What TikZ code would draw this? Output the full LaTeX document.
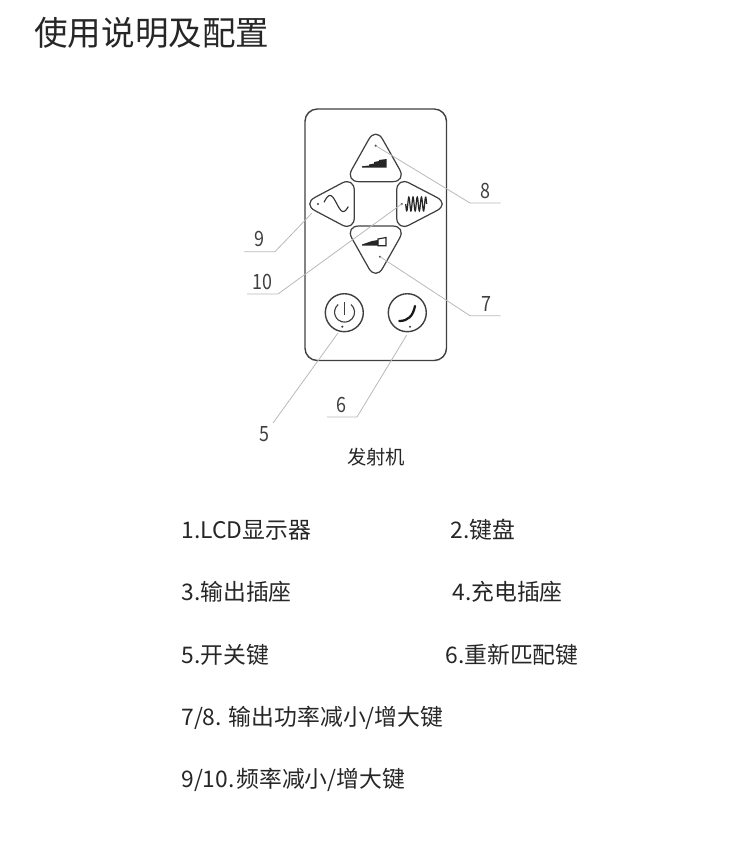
\documentclass[tikz,border=0pt]{standalone}
\usepackage{fontspec}
\setmainfont{Noto Sans CJK SC}
\newfontfamily\numfont[FakeStretch=0.85]{Noto Sans CJK SC}
\tikzset{
	device/.style={draw=black!75, line width=0.8pt},
	keyshape/.style={draw=black!75, line width=0.7pt, rounded corners=8pt},
	leader/.style={draw=black!28, line width=0.45pt},
	dotmark/.style={fill=black!75},
	number/.style={text=black!75, font=\numfont\fontsize{12}{13}\selectfont, inner sep=0pt},
	heading/.style={anchor=west, inner sep=0pt, text=black!85, font=\fontsize{19.1}{22}\selectfont},
	entry/.style={anchor=west, inner sep=0pt, text=black!85, font=\fontsize{13}{16}\selectfont},
}
\begin{document}
\begin{tikzpicture}[x=0.02cm, y=-0.02cm]
	\useasboundingbox (0,0) rectangle (750,846);
	\node[heading] (title) at (34,33) {使用说明及配置};

	% Gehaeuse
	\draw[device, rounded corners=7pt] (305,109) rectangle (446.5,360.5);

	% Tasten
	\draw[keyshape] (375.7,127) -- (406.5,181.7) -- (345,181.7) -- cycle;
	\draw[keyshape] (375.7,280.5) -- (406.5,226) -- (345,226) -- cycle;
	\draw[keyshape] (302.5,204) -- (354.3,176.5) -- (354.3,231.5) -- cycle;
	\draw[keyshape] (449.5,204) -- (396.7,176.5) -- (396.7,231.5) -- cycle;
	\draw[device] (344.3,312.7) circle (19);
	\draw[device] (407.3,312.7) circle (19);

	% Symbole
	\fill[black!85] (362,167.7) -- (362,166.3) -- (369,165.5) -- (369,164.5) -- (374,163.5) -- (374,162) -- (379,161) -- (379,160) -- (386.7,159) -- (386.7,167.7) -- cycle;
	\draw[black!85, line width=0.65pt] (378,245.7) -- (386,245.7) -- (386,237.5) -- (378,239) -- cycle;
	\fill[black!85] (362,245.7) -- (362,244.5) -- (372,241) -- (378,240) -- (378,245.7) -- cycle;
	\draw[black!80, line width=0.65pt] plot[domain=324:348.3, samples=50, smooth] (\x,{203.5-8*cos((\x-330)*360/26.6)});
	\draw[black!85, line width=0.7pt] plot[domain=0:21, samples=90, smooth] ({405.7+\x},{204+7*sin(\x*360/4.2)});
	\draw[black!75, line width=0.65pt] (344.3,302) -- (344.3,315);
	\draw[black!75, line width=0.65pt] (351,304.5) arc[start angle=-50, end angle=230, radius=10];
	\draw[black!90, line width=1.3pt, line cap=round] (399.3,321) .. controls (408,321) and (413,316) .. (415,306);

	% Punkte und Bezugslinien
	\coordinate (dot8) at (375.7,145.7);
	\coordinate (dot7) at (380,256.7);
	\coordinate (dot9) at (318,204);
	\coordinate (dot10) at (401.7,204);
	\coordinate (dot5) at (342.3,326.7);
	\coordinate (dot6) at (410,326.7);
	\foreach \d in {dot5,dot6,dot7,dot8,dot9,dot10}
		\fill[dotmark] (\d) circle (1.2);

	\node[number] (n8) at (485,191) {8};
	\node[number] (n9) at (259,239) {9};
	\node[number] (n10) at (262,282) {10};
	\node[number] (n7) at (486,304) {7};
	\node[number] (n5) at (264,434) {5};
	\node[number] (n6) at (341,405) {6};

	\coordinate (b8) at (470,203);
	\coordinate (e8) at (500.7,203);
	\coordinate (b9) at (275,251.7);
	\coordinate (e9) at (244,251.7);
	\coordinate (s9) at (311.7,213.3);
	\coordinate (b10) at (278,294);
	\coordinate (e10) at (247,294);
	\coordinate (b7) at (470,315.7);
	\coordinate (e7) at (500.7,315.7);
	\coordinate (s5) at (338,333);
	\coordinate (b5) at (273,423);
	\coordinate (s6) at (406.7,335);
	\coordinate (b6) at (357,417);
	\coordinate (e6) at (327,417);

	\draw[leader] (dot8) -- (b8) -- (e8);
	\draw[leader] (s9) -- (b9) -- (e9);
	\draw[leader] (dot10) -- (b10) -- (e10);
	\draw[leader] (dot7) -- (b7) -- (e7);
	\draw[leader] (s5) -- (b5);
	\draw[leader] (s6) -- (b6) -- (e6);

	\node[inner sep=0pt, text=black!85, font=\fontsize{11}{12}\selectfont] (sender) at (376,457) {发射机};

	% Legende
	\node[entry] (l1) at (181,530) {1.LCD显示器};
	\node[entry] (l2) at (450,530) {2.键盘};
	\node[entry] (l3) at (181,592) {3.输出插座};
	\node[entry] (l4) at (452,592) {4.充电插座};
	\node[entry] (l5) at (181,655) {5.开关键};
	\node[entry] (l6) at (445,655) {6.重新匹配键};
	\node[entry] (l7) at (181,717.5) {7/8. 输出功率减小/增大键};
	\node[entry] (l9) at (181,779.5) {9/10.\hspace{1pt}频率减小/增大键};
\end{tikzpicture}
\end{document}
